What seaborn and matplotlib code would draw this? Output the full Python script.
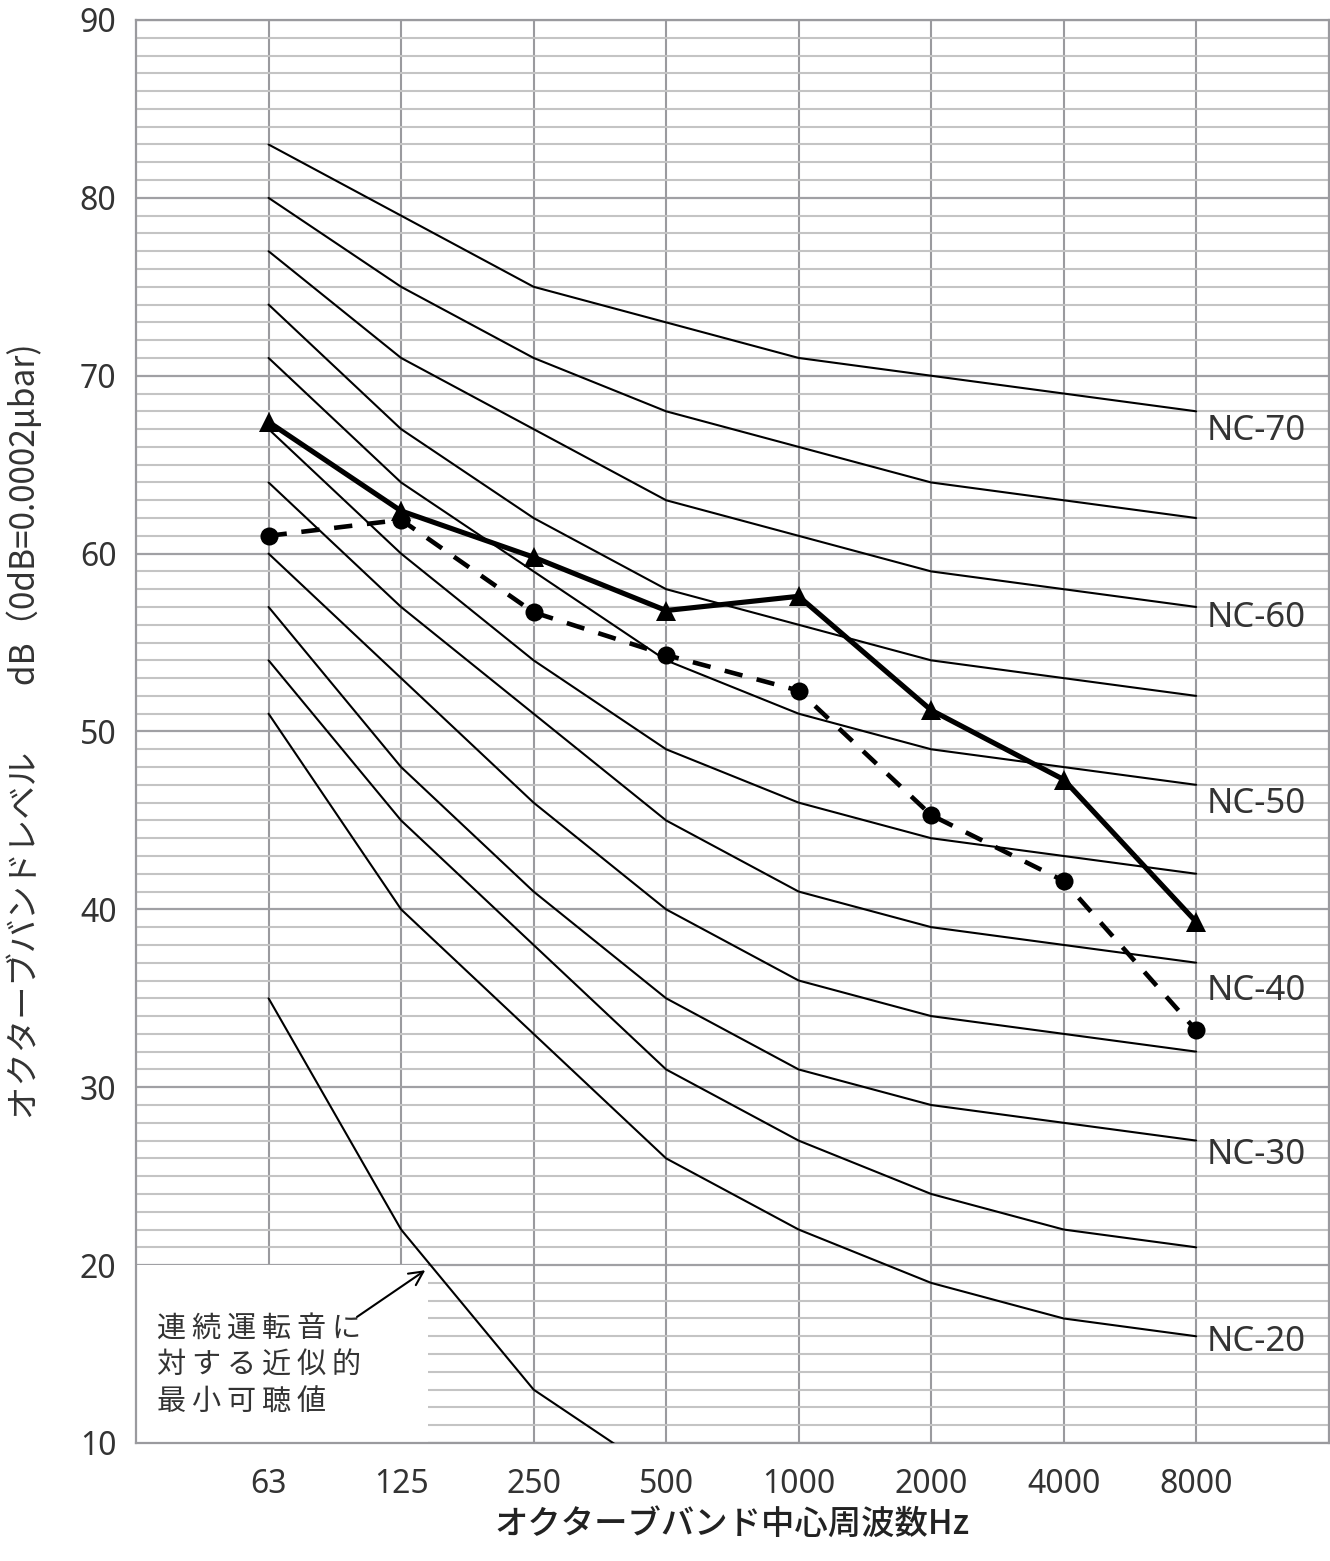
import numpy as np
import pandas as pd
import seaborn as sns
import matplotlib.pyplot as plt
from matplotlib.patches import Rectangle

# Octave band centre frequencies (Hz)
freq_labels = ["63", "125", "250", "500", "1000", "2000", "4000", "8000"]

# NC curves (dB per octave band)
nc_names = ["NC-70", "NC-65", "NC-60", "NC-55", "NC-50", "NC-45",
            "NC-40", "NC-35", "NC-30", "NC-25", "NC-20"]
nc_70 = [83, 79, 75, 73, 71, 70, 69, 68]
nc_65 = [80, 75, 71, 68, 66, 64, 63, 62]
nc_60 = [77, 71, 67, 63, 61, 59, 58, 57]
nc_55 = [74, 67, 62, 58, 56, 54, 53, 52]
nc_50 = [71, 64, 59, 54, 51, 49, 48, 47]
nc_45 = [67, 60, 54, 49, 46, 44, 43, 42]
nc_40 = [64, 57, 51, 45, 41, 39, 38, 37]
nc_35 = [60, 53, 46, 40, 36, 34, 33, 32]
nc_30 = [57, 48, 41, 35, 31, 29, 28, 27]
nc_25 = [54, 45, 38, 31, 27, 24, 22, 21]
nc_20 = [51, 40, 33, 26, 22, 19, 17, 16]
nc_values = [nc_70, nc_65, nc_60, nc_55, nc_50, nc_45,
             nc_40, nc_35, nc_30, nc_25, nc_20]

# approximate hearing threshold for continuous noise (63..500 Hz)
threshold = [35, 22, 13, 8]

# measured spectra
measured_a = [67.4, 62.4, 59.8, 56.8, 57.6, 51.2, 47.3, 39.3]   # triangles, solid
measured_b = [61.0, 61.9, 56.7, 54.3, 52.3, 45.3, 41.6, 33.2]   # circles, dashed

# which curves get a label, and where
label_names = ["NC-70", "NC-60", "NC-50", "NC-40", "NC-30", "NC-20"]
label_y = [66.9, 56.4, 45.9, 35.4, 26.2, 15.7]

pos = np.arange(len(freq_labels))

rows = []
for name, vals in zip(nc_names, nc_values):
    for p, v in zip(pos, vals):
        rows.append({"pos": p, "level": v, "curve": name})
for p, v in zip(pos, threshold):
    rows.append({"pos": p, "level": v, "curve": "threshold"})
nc_df = pd.DataFrame(rows)

meas_a_df = pd.DataFrame({"pos": pos, "level": measured_a})
meas_b_df = pd.DataFrame({"pos": pos, "level": measured_b})

sns.set_theme(style="white")
plt.rcParams["font.family"] = ["Noto Sans CJK JP", "DejaVu Sans"]
latin = ["Noto Sans", "DejaVu Sans"]
txt = "#333333"

fig = plt.figure(figsize=(13.3, 15.61), dpi=100)
ax = fig.add_axes([0.1023, 0.0756, 0.8967, 0.9116])

# NC curves
sns.lineplot(data=nc_df, x="pos", y="level", units="curve", estimator=None,
             color="black", linewidth=1.5, ax=ax, zorder=3)

# measured spectra
sns.lineplot(data=meas_b_df, x="pos", y="level", color="black", linewidth=3.3,
             marker="o", markersize=13, markeredgewidth=0,
             ax=ax, zorder=4)
ax.lines[-1].set_dashes((4, 3.2))
sns.lineplot(data=meas_a_df, x="pos", y="level", color="black", linewidth=3.7,
             marker="^", markersize=14, markeredgewidth=0, ax=ax, zorder=5)

ax.set_xlim(-1, 8)
ax.set_ylim(10, 90)
ax.set_xticks(pos)
ax.set_xticklabels(freq_labels)
ax.set_yticks(np.arange(10, 91, 10))
ax.set_yticks(np.arange(10, 91, 1), minor=True)

ax.set_axisbelow(True)
ax.grid(axis="x", which="major", color="#9a9a9e", linewidth=1.5)
ax.grid(axis="y", which="minor", color="#c4c4c4", linewidth=1.5)
ax.grid(axis="y", which="major", color="#a0a0a4", linewidth=1.6)
for s in ax.spines.values():
    s.set_color("#9a9a9e")
    s.set_linewidth(1.6)
ax.tick_params(axis="both", which="both", length=0, labelsize=23,
               labelcolor=txt)
ax.tick_params(axis="x", pad=18)
ax.tick_params(axis="y", pad=14)
for lab in ax.get_xticklabels() + ax.get_yticklabels():
    lab.set_family(latin)

# NC labels at the right end
for name, y in zip(label_names, label_y):
    ax.text(7.08, y, name, fontsize=25, color=txt, va="center", ha="left",
            family=latin, zorder=6)

# note box for the hearing threshold curve
ax.add_patch(Rectangle((-1, 10), 2.2, 10, facecolor="white", edgecolor="none",
                       zorder=2))
ts = "\u2009"
note = "\n".join(ts.join(line) for line in ["連続運転音に", "対する近似的", "最小可聴値"])
ax.text(-0.84, 14.35, note, fontsize=21, color=txt, va="center", ha="left",
        linespacing=1.3, zorder=6)
ax.annotate("", xy=(1.2, 19.8), xytext=(0.65, 17.0),
            arrowprops=dict(arrowstyle="->", color="black", lw=1.5,
                            mutation_scale=25), zorder=6)

ax.set_xlabel("オクターブバンド中心周波数Hz", fontsize=24, color="#222222",
              labelpad=4, fontweight="medium")
ax.set_ylabel("オクターブバンドレベル\u3000\u3000dB（0dB=0.0002μbar)",
              fontsize=24, color=txt)
ax.yaxis.set_label_coords(-0.078, 0.5)

fig.savefig("out.png", dpi=100)
